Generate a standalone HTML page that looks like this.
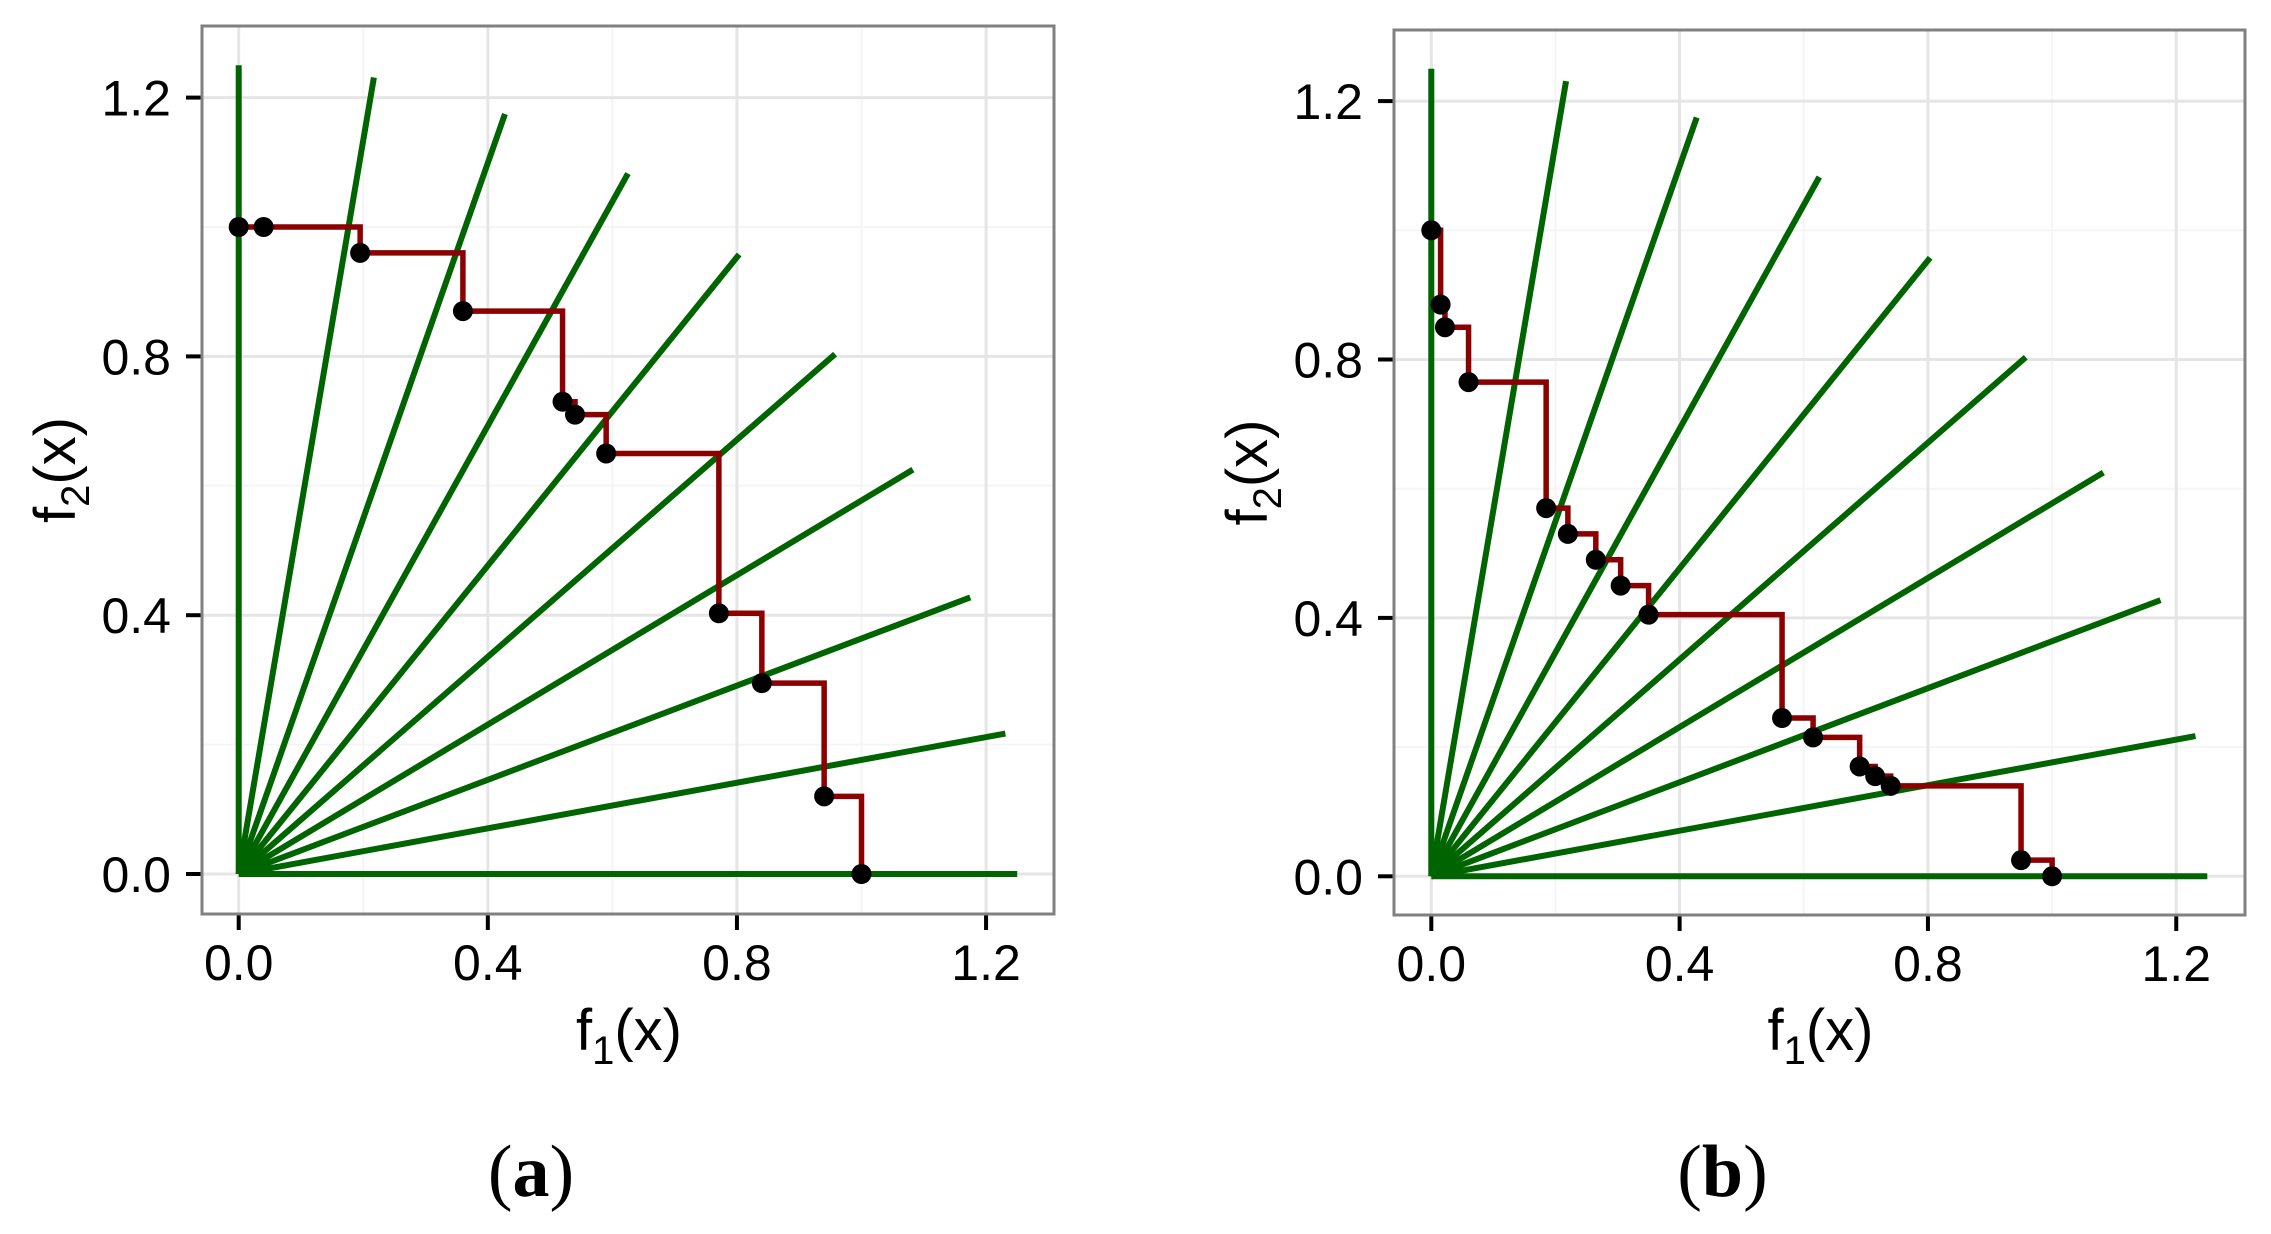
<!DOCTYPE html>
<html><head><meta charset="utf-8">
<style>
html,body{margin:0;padding:0;background:#fff;width:2271px;height:1234px;overflow:hidden}
svg{display:block}
text{font-family:"Liberation Sans",sans-serif;fill:#000}
</style></head>
<body>
<svg id="s" width="2271" height="1234" viewBox="0 0 2271 1234" xmlns="http://www.w3.org/2000/svg"></svg>
<script>
var NS="http://www.w3.org/2000/svg";
var svg=document.getElementById('s');
function el(n,a,t){var e=document.createElementNS(NS,n);for(var k in a)e.setAttribute(k,a[k]);if(t!==undefined)e.textContent=t;svg.appendChild(e);return e;}
function panel(P){
  var X=function(v){return P.x0+v*P.sx;}, Y=function(v){return P.y0-v*P.sy;};
  [0.2,0.6,1.0].forEach(function(v){
    el('line',{x1:X(v),x2:X(v),y1:P.top,y2:P.bot,stroke:'#f5f5f5','stroke-width':2});
    el('line',{x1:P.left,x2:P.right,y1:Y(v),y2:Y(v),stroke:'#f5f5f5','stroke-width':2});
  });
  [0,0.4,0.8,1.2].forEach(function(v){
    el('line',{x1:X(v),x2:X(v),y1:P.top,y2:P.bot,stroke:'#e5e5e5','stroke-width':3});
    el('line',{x1:P.left,x2:P.right,y1:Y(v),y2:Y(v),stroke:'#e5e5e5','stroke-width':3});
    el('line',{x1:X(v),x2:X(v),y1:P.bot,y2:P.bot+16,stroke:'#000','stroke-width':4});
    el('line',{x1:P.left-16,x2:P.left,y1:Y(v),y2:Y(v),stroke:'#000','stroke-width':4});
    el('text',{x:X(v),y:P.bot+66,'text-anchor':'middle','font-size':50},v.toFixed(1));
    el('text',{x:P.left-31,y:Y(v)+18,'text-anchor':'end','font-size':50},v.toFixed(1));
  });
  for(var k=0;k<=9;k++){
    var a=k*Math.PI/18;
    el('line',{x1:X(0),y1:Y(0),x2:X(1.25*Math.cos(a)),y2:Y(1.25*Math.sin(a)),stroke:'#006400','stroke-width':6});
  }
  var p=P.pts, d='M'+X(p[0][0])+' '+Y(p[0][1]);
  for(var i=1;i<p.length;i++){d+=' H'+X(p[i][0])+' V'+Y(p[i][1]);}
  el('path',{d:d,fill:'none',stroke:'#8b0000','stroke-width':5.5});
  p.forEach(function(q){el('circle',{cx:X(q[0]),cy:Y(q[1]),r:10,fill:'#000'});});
  el('rect',{x:P.left,y:P.top,width:P.right-P.left,height:P.bot-P.top,fill:'none',stroke:'#808080','stroke-width':3});
  var tx=(P.left+P.right)/2+1;
  var t=el('text',{x:tx,y:1050,'text-anchor':'middle','font-size':58});
  t.innerHTML='f<tspan font-size="40" dy="14">1</tspan><tspan dy="-14">(x)</tspan>';
  var cy=(P.top+P.bot)/2, cx=P.left-147;
  var t2=el('text',{x:cx,y:cy,'text-anchor':'middle','font-size':58,transform:'rotate(-90 '+cx+' '+cy+') translate(0 20)'});
  t2.innerHTML='f<tspan font-size="40" dy="14">2</tspan><tspan dy="-14">(x)</tspan>';
  var c=el('text',{x:tx-98,y:1196,'text-anchor':'middle','font-size':74,style:'font-family:"Liberation Serif",serif'});
  c.innerHTML='(<tspan font-weight="bold">'+P.cap+'</tspan>)';
}
panel({left:202,right:1054,top:26,bot:914,x0:238.7,sx:622.8,y0:874,sy:647,cap:'a',
 pts:[[0,1],[0.04,1],[0.195,0.96],[0.36,0.87],[0.52,0.73],[0.54,0.71],[0.59,0.65],[0.771,0.403],[0.84,0.295],[0.94,0.12],[1,0]]});
panel({left:1394,right:2245,top:30,bot:915,x0:1431.3,sx:620.8,y0:876.3,sy:646,cap:'b',
 pts:[[0,1],[0.015,0.885],[0.022,0.85],[0.06,0.765],[0.185,0.57],[0.22,0.53],[0.265,0.49],[0.305,0.45],[0.35,0.405],[0.565,0.245],[0.615,0.215],[0.69,0.17],[0.715,0.155],[0.74,0.14],[0.95,0.025],[1,0]]});
</script>
</body></html>
